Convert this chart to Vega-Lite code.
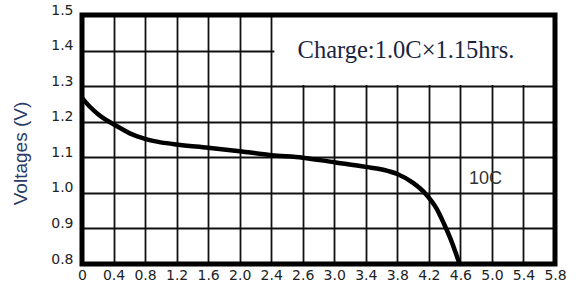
{
  "$schema": "https://vega.github.io/schema/vega-lite/v6.json",
  "width": 473,
  "height": 249,
  "autosize": {"type": "none"},
  "padding": {"left": 82, "top": 15, "right": 27, "bottom": 25},
  "background": "white",
  "config": {"view": {"stroke": null}},
  "datasets": {
    "box": [{"x": 2.42, "x2": 5.8, "y": 1.303, "y2": 1.5}],
    "frame": [{"x": 0, "x2": 5.8, "y": 0.8, "y2": 1.5}],
    "curve": [
      {"x": 0.0, "y": 1.267},
      {"x": 0.1, "y": 1.242},
      {"x": 0.2, "y": 1.222},
      {"x": 0.3, "y": 1.206},
      {"x": 0.4, "y": 1.193},
      {"x": 0.5, "y": 1.180},
      {"x": 0.6, "y": 1.168},
      {"x": 0.7, "y": 1.159},
      {"x": 0.8, "y": 1.152},
      {"x": 0.9, "y": 1.146},
      {"x": 1.0, "y": 1.142},
      {"x": 1.2, "y": 1.136},
      {"x": 1.6, "y": 1.127},
      {"x": 2.0, "y": 1.117},
      {"x": 2.4, "y": 1.106},
      {"x": 2.6, "y": 1.099},
      {"x": 3.0, "y": 1.086},
      {"x": 3.4, "y": 1.073},
      {"x": 3.62, "y": 1.065},
      {"x": 3.8, "y": 1.053},
      {"x": 4.0, "y": 1.028},
      {"x": 4.16, "y": 0.997},
      {"x": 4.3, "y": 0.955},
      {"x": 4.39, "y": 0.914},
      {"x": 4.48, "y": 0.868},
      {"x": 4.59, "y": 0.8}
    ],
    "charge": [{"x": 3.91, "y": 1.4, "label": "Charge:1.0C×1.15hrs."}],
    "rate": [{"x": 4.92, "y": 1.04, "label": "10C"}]
  },
  "encoding": {
    "x": {
      "field": "x",
      "type": "quantitative",
      "scale": {"type": "linear", "domain": [0, 2.4, 2.6, 5.8], "range": [0, 189.2, 220.7, 473], "nice": false, "zero": false},
      "axis": {
        "title": null,
        "values": [0, 0.4, 0.8, 1.2, 1.6, 2.0, 2.4, 2.6, 3.0, 3.4, 3.8, 4.2, 4.6, 5.0, 5.4, 5.8],
        "labelExpr": "datum.value == 0 ? '0' : format(datum.value, '.1f')",
        "labelFont": "DejaVu Sans",
        "labelFontSize": 14,
        "labelColor": "#222",
        "labelPadding": 4,
        "labelBaseline": "top",
        "labelOverlap": false,
        "labelFlush": false,
        "ticks": false,
        "domain": false,
        "grid": true,
        "gridColor": "#111",
        "gridWidth": 1.8,
        "gridOpacity": 1
      }
    },
    "y": {
      "field": "y",
      "type": "quantitative",
      "scale": {"domain": [0.8, 1.5], "nice": false, "zero": false},
      "axis": {
        "title": "Voltages (V)",
        "titleFont": "Liberation Sans",
        "titleFontSize": 19,
        "titleFontWeight": "normal",
        "titleColor": "#2b3a67",
        "titleAngle": -90,
        "titleAlign": "center",
        "titleBaseline": "middle",
        "titleX": -62,
        "titleY": 138,
        "values": [0.8, 0.9, 1.0, 1.1, 1.2, 1.3, 1.4, 1.5],
        "format": ".1f",
        "labelFont": "DejaVu Sans",
        "labelFontSize": 14,
        "labelColor": "#222",
        "labelPadding": 9,
        "labelOffset": -5,
        "labelOverlap": false,
        "labelFlush": false,
        "ticks": false,
        "domain": false,
        "grid": true,
        "gridColor": "#111",
        "gridWidth": 1.8,
        "gridOpacity": 1
      }
    }
  },
  "layer": [
    {
      "data": {"name": "box"},
      "mark": {"type": "rect", "fill": "white", "stroke": null},
      "encoding": {"x2": {"field": "x2"}, "y2": {"field": "y2"}}
    },
    {
      "data": {"name": "curve"},
      "mark": {"type": "line", "color": "#000", "strokeWidth": 4.5, "interpolate": "monotone"},
      "encoding": {}
    },
    {
      "data": {"name": "charge"},
      "mark": {"type": "text", "font": "Liberation Serif", "fontSize": 24.5, "color": "#1a2440", "align": "center", "baseline": "middle"},
      "encoding": {"text": {"field": "label"}}
    },
    {
      "data": {"name": "rate"},
      "mark": {"type": "text", "font": "Liberation Sans", "fontSize": 18, "color": "#333", "align": "center", "baseline": "middle"},
      "encoding": {"text": {"field": "label"}}
    },
    {
      "data": {"name": "frame"},
      "mark": {"type": "rect", "fillOpacity": 0, "fill": "white", "stroke": "#000", "strokeWidth": 5},
      "encoding": {"x2": {"field": "x2"}, "y2": {"field": "y2"}}
    }
  ]
}
